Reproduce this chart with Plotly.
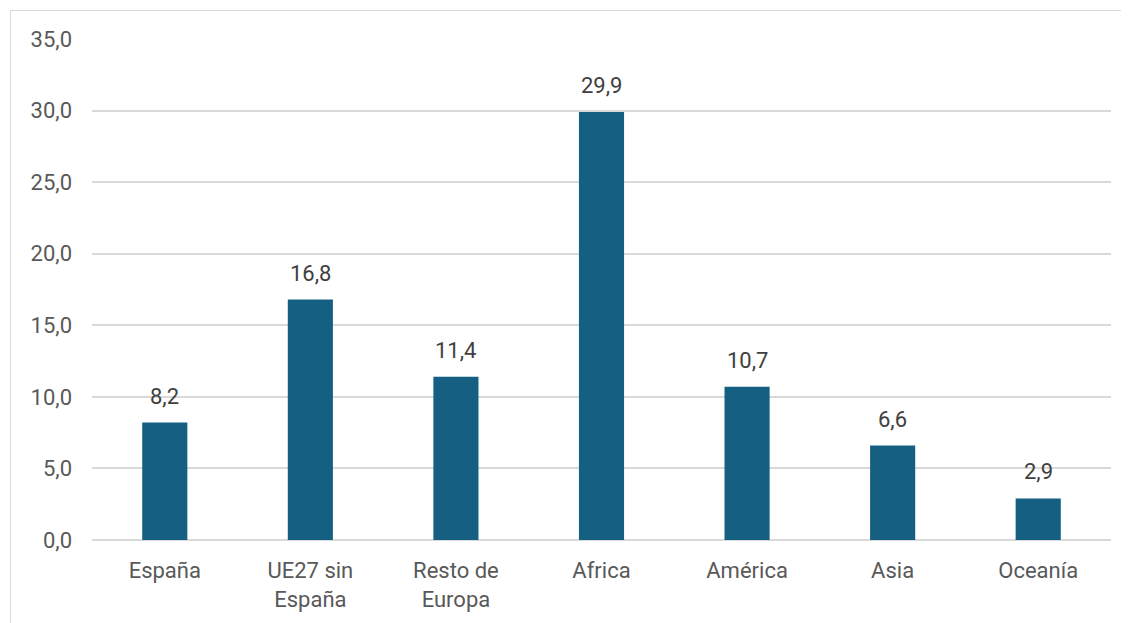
import plotly.graph_objects as go

categories = ["España", "UE27 sin<br>España", "Resto de<br>Europa", "Africa", "América", "Asia", "Oceanía"]
values = [8.2, 16.8, 11.4, 29.9, 10.7, 6.6, 2.9]
y_ticks = [0, 5, 10, 15, 20, 25, 30, 35]

# page body has an 8px margin, so the figure is laid out 8px smaller
W, H = 1121, 615
L, R, T, B = 84, 18, 31, 83
pw, ph = W - L - R, H - T - B
OFF = 8

def px_x(x):
    return (x - OFF - L) / pw

def px_y(y):
    return (H - B - (y - OFF)) / ph

fig = go.Figure(go.Bar(
    x=categories, y=values,
    marker=dict(color="#156082", line=dict(width=0)),
    hoverinfo="skip",
))

for c, v in zip(categories, values):
    fig.add_annotation(x=c, y=v, text=f"{v:.1f}".replace(".", ","), showarrow=False,
                       yanchor="bottom", yshift=12,
                       font=dict(family="Roboto", size=22, color="#404040"))

fig.update_layout(
    width=W, height=H,
    margin=dict(l=L, r=R, t=T, b=B),
    paper_bgcolor="white", plot_bgcolor="white",
    separators=",.",
    showlegend=False,
    bargap=0.69,
    font=dict(family="Roboto", size=22, color="#595959"),
    xaxis=dict(showgrid=False, showline=False, ticks="", ticklabelstandoff=15,
               tickfont=dict(family="Roboto", size=22, color="#595959")),
    yaxis=dict(range=[0, 35], tickvals=y_ticks, tickformat=".1f", showgrid=True,
               gridcolor="#d9d9d9", gridwidth=1.5, zeroline=True, zerolinecolor="#d9d9d9",
               zerolinewidth=1.5, showline=False, ticks="", ticklabelstandoff=19,
               tickfont=dict(family="Roboto", size=22, color="#595959")),
    shapes=[dict(type="rect", xref="paper", yref="paper",
                 x0=px_x(10.5), x1=px_x(1145), y0=px_y(10.5), y1=px_y(650),
                 line=dict(color="#d9d9d9", width=1), fillcolor="rgba(0,0,0,0)", layer="below")],
)

fig.write_html("out.html")
